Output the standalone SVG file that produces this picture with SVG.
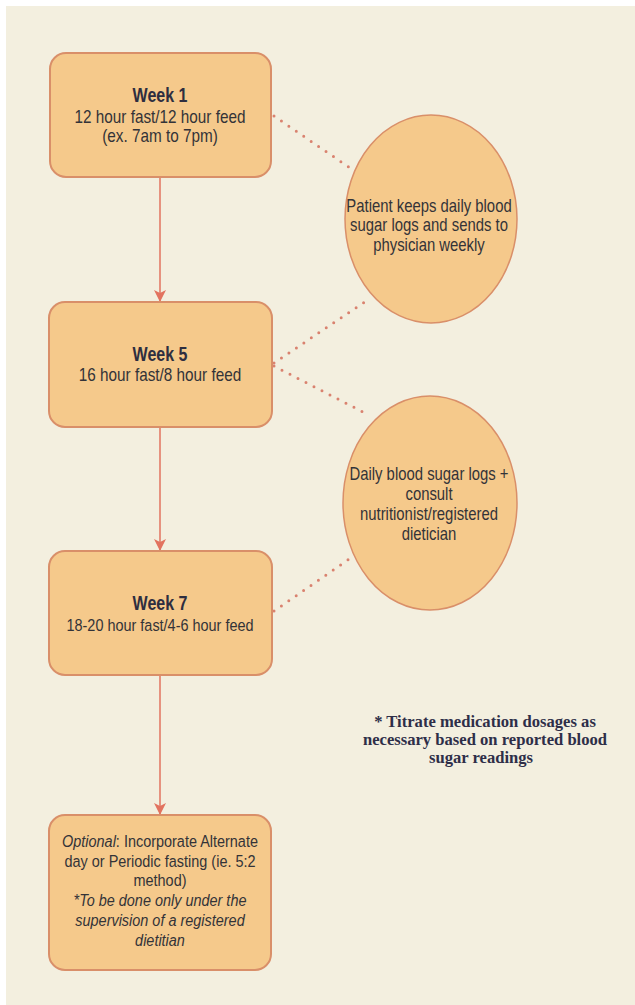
<svg xmlns="http://www.w3.org/2000/svg" width="635" height="1005" viewBox="0 0 635 1005">
<style>
.box{fill:#F5C98B;stroke:#D98F69;stroke-width:2}
.ell{fill:#F5C98B;stroke:#D98F69;stroke-width:1.5}
.t{font-family:"Liberation Sans",Arial,sans-serif;font-size:18px;fill:#333338;text-anchor:middle}
.s{font-size:17px}
.e{font-size:17.5px}
.b{font-weight:bold;font-size:20px;fill:#2E2E40}
.i{font-style:italic}
.dot{fill:none;stroke:#D9826F;stroke-width:3;stroke-linecap:round;stroke-dasharray:0 9}
.arr{fill:none;stroke:#E2735F;stroke-width:1.5}
.note{font-family:"Liberation Serif","Times New Roman",serif;font-weight:bold;font-size:17.5px;fill:#2E2E48;text-anchor:middle}
</style>
<defs>
<marker id="ah" viewBox="0 0 12 12" refX="11" refY="6" markerWidth="12" markerHeight="12" markerUnits="userSpaceOnUse" orient="auto">
<path d="M0,0 L12,6 L0,12 L3,6 Z" fill="#E2735F"/>
</marker>
</defs>
<rect x="0" y="0" width="635" height="1005" fill="#FFFFFF"/>
<rect x="6" y="6" width="629" height="999" fill="#F3EFDF"/>

<g id="connectors">
<line class="arr" x1="160" y1="177" x2="160" y2="301" marker-end="url(#ah)"/>
<line class="arr" x1="160" y1="427" x2="160" y2="550" marker-end="url(#ah)"/>
<line class="arr" x1="160" y1="675" x2="160" y2="814" marker-end="url(#ah)"/>
<line class="dot" x1="274" y1="116" x2="356" y2="172"/>
<line class="dot" x1="274" y1="363" x2="369" y2="299"/>
<line class="dot" x1="274" y1="366" x2="363" y2="412"/>
<line class="dot" x1="274" y1="611" x2="352" y2="557"/>
</g>

<g id="week1">
<rect class="box" x="50" y="53" width="221" height="124" rx="16"/>
<text class="t b" transform="translate(160,102) scale(0.8,1)">Week 1</text>
<text class="t" transform="translate(160,123) scale(0.85,1)">12 hour fast/12 hour feed</text>
<text class="t" transform="translate(160,142) scale(0.85,1)">(ex. 7am to 7pm)</text>
</g>

<g id="week5">
<rect class="box" x="49" y="302" width="223" height="125" rx="16"/>
<text class="t b" transform="translate(160,361) scale(0.8,1)">Week 5</text>
<text class="t" transform="translate(160,381) scale(0.85,1)">16 hour fast/8 hour feed</text>
</g>

<g id="week7">
<rect class="box" x="49" y="551" width="223" height="124" rx="16"/>
<text class="t b" transform="translate(160,610) scale(0.8,1)">Week 7</text>
<text class="t s" transform="translate(160,631) scale(0.85,1)">18-20 hour fast/4-6 hour feed</text>
</g>

<g id="optional">
<rect class="box" x="49" y="815" width="222" height="155" rx="16"/>
<text class="t s" transform="translate(160,847) scale(0.85,1)"><tspan class="i">Optional</tspan>: Incorporate Alternate</text>
<text class="t s" transform="translate(160,867) scale(0.85,1)">day or Periodic fasting (ie. 5:2</text>
<text class="t s" transform="translate(160,886) scale(0.85,1)">method)</text>
<text class="t s i" transform="translate(160,906) scale(0.85,1)">*To be done only under the</text>
<text class="t s i" transform="translate(160,926) scale(0.85,1)">supervision of a registered</text>
<text class="t s i" transform="translate(160,946) scale(0.85,1)">dietitian</text>
</g>

<g id="logs-weekly">
<ellipse class="ell" cx="431" cy="219" rx="86" ry="104"/>
<text class="t e" transform="translate(429,212) scale(0.85,1)">Patient keeps daily blood</text>
<text class="t e" transform="translate(429,231) scale(0.85,1)">sugar logs and sends to</text>
<text class="t e" transform="translate(429,251) scale(0.85,1)">physician weekly</text>
</g>

<g id="logs-consult">
<ellipse class="ell" cx="430" cy="503" rx="87" ry="107"/>
<text class="t e" transform="translate(429,480) scale(0.85,1)">Daily blood sugar logs +</text>
<text class="t e" transform="translate(429,500) scale(0.85,1)">consult</text>
<text class="t e" transform="translate(429,520) scale(0.85,1)">nutritionist/registered</text>
<text class="t e" transform="translate(429,540) scale(0.85,1)">dietician</text>
</g>

<g id="note">
<text class="note" transform="translate(485,727) scale(0.95,1)">* Titrate medication dosages as</text>
<text class="note" transform="translate(485,745) scale(0.95,1)">necessary based on reported blood</text>
<text class="note" transform="translate(481,763) scale(0.95,1)">sugar readings</text>
</g>
</svg>
